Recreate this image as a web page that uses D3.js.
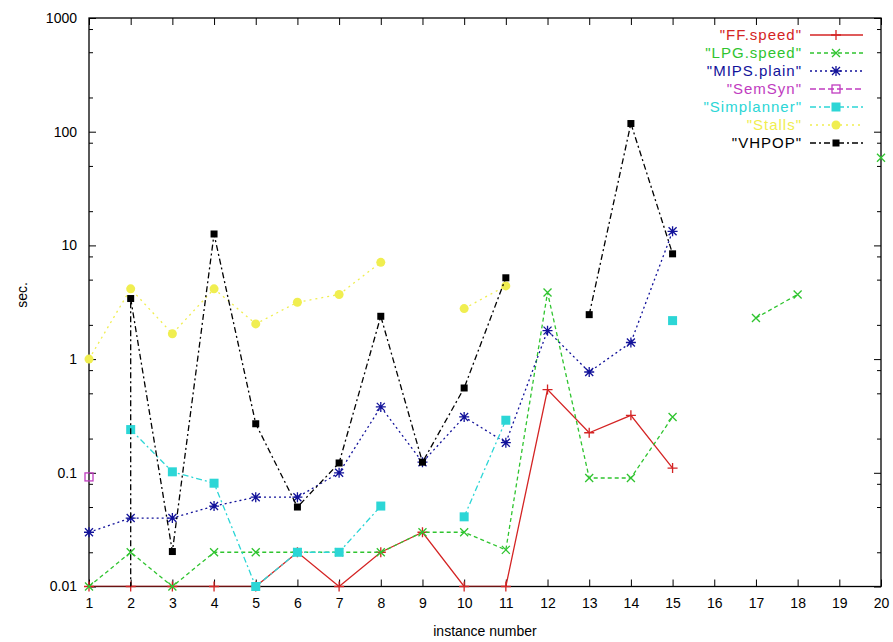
<!DOCTYPE html>
<meta charset="utf-8">
<style>

body {
  margin: 0;
  background: #fff;
}

text {
  font-family: "Liberation Sans", Arial, sans-serif;
  font-size: 14px;
  fill: #000;
}

.legend text {
  font-size: 15px;
  letter-spacing: 1px;
}

.axis line {
  stroke: #000;
}

</style>
<svg width="893" height="642"></svg>
<script src="https://d3js.org/d3.v7.min.js"></script>
<script>

// instance numbers on the x axis
var instances = [1, 2, 3, 4, 5, 6, 7, 8, 9, 10, 11, 12, 13, 14, 15, 16, 17, 18, 19, 20];

// seconds per instance, null = no result
var ffSpeed    = [0.01, 0.01, 0.01, 0.01, 0.01, 0.02, 0.01, 0.02, 0.03, 0.01, 0.01, 0.54, 0.225, 0.32, 0.11, null, null, null, null, null];
var lpgSpeed   = [0.01, 0.02, 0.01, 0.02, 0.02, 0.02, 0.02, 0.02, 0.03, 0.03, 0.021, 3.85, 0.09, 0.09, 0.31, null, 2.3, 3.7, null, 59];
var mipsPlain  = [0.03, 0.04, 0.04, 0.051, 0.061, 0.061, 0.1, 0.38, 0.124, 0.31, 0.184, 1.78, 0.77, 1.4, 13.3, null, null, null, null, null];
var semSyn     = [0.092, null, null, null, null, null, null, null, null, null, null, null, null, null, null, null, null, null, null, null];
var simplanner = [null, 0.24, 0.102, 0.081, 0.01, 0.02, 0.02, 0.051, null, 0.041, 0.29, null, null, null, 2.18, null, null, null, null, null];
var stalls     = [1.0, 4.15, 1.67, 4.15, 2.04, 3.16, 3.7, 7.1, null, 2.78, 4.4, null, null, null, null, null, null, null, null, null];
var vhpop      = [null, 3.41, 0.0203, 12.6, 0.27, 0.05, 0.122, 2.38, 0.124, 0.557, 5.19, null, 2.46, 118, 8.43, null, null, null, null, null];
// VHPOP has an off-scale (below 0.01) sample at instance 2 before the 3.41 one
var vhpopDrop  = [[2, 0.001], [2, 3.41]];

var yMajorTicks = [0.01, 0.1, 1, 10, 100, 1000];
var yTickLabels = ["0.01", "0.1", "1", "10", "100", "1000"];
var yMinorTicks = [0.02, 0.05, 0.08, 0.2, 0.5, 0.8, 2, 5, 8, 20, 50, 80, 200, 500, 800];

var seriesNames = ["\"FF.speed\"", "\"LPG.speed\"", "\"MIPS.plain\"", "\"SemSyn\"", "\"Simplanner\"", "\"Stalls\"", "\"VHPOP\""];
var seriesValues = [ffSpeed, lpgSpeed, mipsPlain, semSyn, simplanner, stalls, vhpop];

var styles = [
  {color: "#d42424", dash: null,      marker: "plus"},
  {color: "#2fc42f", dash: "4,3",     marker: "cross"},
  {color: "#12129a", dash: "2,3",     marker: "star"},
  {color: "#c03cc0", dash: "6,3",     marker: "box"},
  {color: "#2cd6d6", dash: "6,3,2,3", marker: "square"},
  {color: "#f0ee50", dash: "2,4",     marker: "circle"},
  {color: "#000000", dash: "6,3,2,3", marker: "blacksquare"}
];

var svg = d3.select("svg");

var plotLeft = 89, plotRight = 881, plotTop = 18, plotBottom = 586.5;

var x = d3.scaleLinear().domain([1, 20]).range([plotLeft, plotRight]);
var y = d3.scaleLog().domain([0.01, 1000]).range([plotBottom, plotTop]);

svg.append("defs").append("clipPath")
    .attr("id", "plot")
  .append("rect")
    .attr("x", plotLeft).attr("y", plotTop)
    .attr("width", plotRight - plotLeft).attr("height", plotBottom - plotTop);

// axes, ticks pointing inward like gnuplot
svg.append("g")
    .attr("class", "axis")
    .attr("transform", "translate(0," + plotBottom + ")")
    .call(d3.axisBottom(x).tickValues(instances).tickFormat(d3.format("d"))
      .tickSizeInner(-7).tickSizeOuter(0).tickPadding(12))
    .call(function(g) { g.select(".domain").remove(); });

svg.append("g")
    .attr("class", "axis")
    .attr("transform", "translate(0," + plotTop + ")")
    .call(d3.axisTop(x).tickValues(instances).tickFormat("")
      .tickSizeInner(-7).tickSizeOuter(0))
    .call(function(g) { g.select(".domain").remove(); });

svg.append("g")
    .attr("class", "axis")
    .attr("transform", "translate(" + plotLeft + ",0)")
    .call(d3.axisLeft(y).tickValues(yMajorTicks)
      .tickFormat(function(d, i) { return yTickLabels[i]; })
      .tickSizeInner(-7).tickSizeOuter(0).tickPadding(12))
    .call(function(g) { g.select(".domain").remove(); });

svg.append("g")
    .attr("class", "axis")
    .attr("transform", "translate(" + plotLeft + ",0)")
    .call(d3.axisLeft(y).tickValues(yMinorTicks).tickFormat("")
      .tickSizeInner(-4).tickSizeOuter(0))
    .call(function(g) { g.select(".domain").remove(); });

svg.append("g")
    .attr("class", "axis")
    .attr("transform", "translate(" + plotRight + ",0)")
    .call(d3.axisRight(y).tickValues(yMajorTicks).tickFormat("")
      .tickSizeInner(-7).tickSizeOuter(0))
    .call(function(g) { g.select(".domain").remove(); });

svg.append("g")
    .attr("class", "axis")
    .attr("transform", "translate(" + plotRight + ",0)")
    .call(d3.axisRight(y).tickValues(yMinorTicks).tickFormat("")
      .tickSizeInner(-4).tickSizeOuter(0))
    .call(function(g) { g.select(".domain").remove(); });

svg.selectAll(".axis text").style("font-size", "14px").style("font-family", "'Liberation Sans', Arial, sans-serif");

svg.append("rect")
    .attr("x", plotLeft).attr("y", plotTop)
    .attr("width", plotRight - plotLeft).attr("height", plotBottom - plotTop)
    .attr("fill", "none")
    .attr("stroke", "#000")
    .attr("stroke-width", 1.3);

svg.append("text")
    .attr("x", (plotLeft + plotRight) / 2)
    .attr("y", 636)
    .attr("text-anchor", "middle")
    .text("instance number");

svg.append("text")
    .attr("transform", "translate(27,295) rotate(-90)")
    .attr("text-anchor", "middle")
    .text("sec.");

// markers
function marker(sel, kind, color) {
  if (kind == "plus" || kind == "cross" || kind == "star") {
    var p = "";
    if (kind != "cross") p += "M-5,0H5M0,-5V5";
    if (kind != "plus") p += "M-4,-4L4,4M-4,4L4,-4";
    sel.append("path").attr("d", p).attr("stroke", color).attr("stroke-width", 1.3).attr("fill", "none");
  } else if (kind == "box") {
    sel.append("rect").attr("x", -4).attr("y", -4).attr("width", 8).attr("height", 8)
      .attr("fill", "none").attr("stroke", color).attr("stroke-width", 1.3);
  } else if (kind == "square") {
    sel.append("rect").attr("x", -4.5).attr("y", -4.5).attr("width", 9).attr("height", 9).attr("fill", color);
  } else if (kind == "blacksquare") {
    sel.append("rect").attr("x", -3.5).attr("y", -3.5).attr("width", 7).attr("height", 7).attr("fill", color);
  } else if (kind == "circle") {
    sel.append("circle").attr("r", 4.5).attr("fill", color);
  }
}

var line = d3.line()
    .defined(function(d) { return d[1] != null; })
    .x(function(d) { return x(d[0]); })
    .y(function(d) { return y(d[1]); });

var plot = svg.append("g");

seriesValues.forEach(function(values, i) {
  var st = styles[i];
  var pts = values.map(function(v, j) { return [instances[j], v]; });

  if (i == 6) {
    plot.append("path")
        .attr("clip-path", "url(#plot)")
        .attr("d", line(vhpopDrop))
        .attr("fill", "none")
        .attr("stroke", st.color)
        .attr("stroke-width", 1.3)
        .attr("stroke-dasharray", st.dash);
  }

  plot.append("path")
      .attr("clip-path", "url(#plot)")
      .attr("d", line(pts))
      .attr("fill", "none")
      .attr("stroke", st.color)
      .attr("stroke-width", 1.3)
      .attr("stroke-dasharray", st.dash);

  pts.filter(function(d) { return d[1] != null; }).forEach(function(d) {
    var g = plot.append("g").attr("transform", "translate(" + x(d[0]) + "," + y(d[1]) + ")");
    marker(g, st.marker, st.color);
  });
});

// legend
var legend = svg.append("g").attr("class", "legend");

seriesNames.forEach(function(name, i) {
  var st = styles[i];
  var ly = 35 + i * 18;
  legend.append("text")
      .attr("x", 802)
      .attr("y", ly)
      .attr("dy", "0.36em")
      .attr("text-anchor", "end")
      .style("fill", st.color)
      .text(name);
  legend.append("line")
      .attr("x1", 810).attr("x2", 863)
      .attr("y1", ly).attr("y2", ly)
      .attr("stroke", st.color)
      .attr("stroke-width", 1.3)
      .attr("stroke-dasharray", st.dash);
  var g = legend.append("g").attr("transform", "translate(836," + ly + ")");
  marker(g, st.marker, st.color);
});

</script>
